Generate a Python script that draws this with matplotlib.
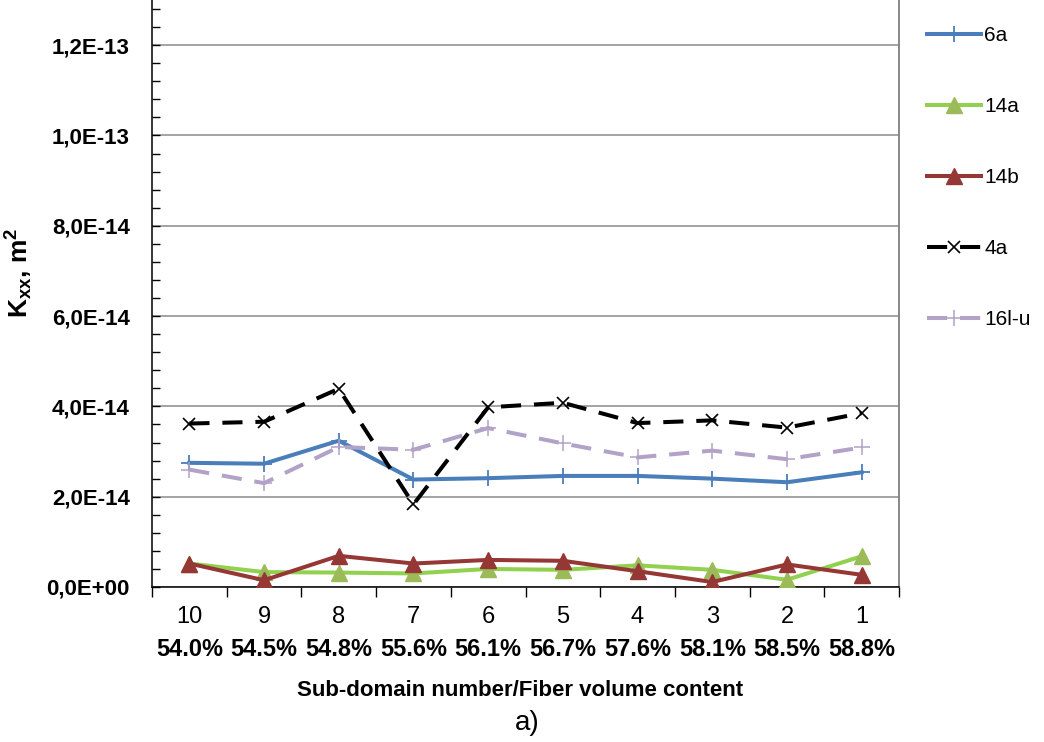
import matplotlib
matplotlib.use("Agg")
import matplotlib.pyplot as plt
from matplotlib.ticker import MultipleLocator, FuncFormatter, FixedLocator

plt.rcParams['font.family'] = ['Liberation Sans', 'DejaVu Sans']
plt.rcParams['mathtext.fontset'] = 'custom'
plt.rcParams['mathtext.rm'] = 'Liberation Sans:bold'
plt.rcParams['mathtext.bf'] = 'Liberation Sans:bold'
plt.rcParams['mathtext.it'] = 'Liberation Sans:bold'
plt.rcParams['mathtext.default'] = 'bf'

# ---------------- data ----------------
subdomains = ['10', '9', '8', '7', '6', '5', '4', '3', '2', '1']
fiber_vf = ['54.0%', '54.5%', '54.8%', '55.6%', '56.1%', '56.7%', '57.6%', '58.1%', '58.5%', '58.8%']

k_6a   = [2.75e-14, 2.73e-14, 3.24e-14, 2.38e-14, 2.41e-14, 2.46e-14, 2.46e-14, 2.40e-14, 2.32e-14, 2.54e-14]
k_14a  = [0.52e-14, 0.33e-14, 0.32e-14, 0.30e-14, 0.40e-14, 0.38e-14, 0.48e-14, 0.38e-14, 0.16e-14, 0.68e-14]
k_14b  = [0.52e-14, 0.15e-14, 0.69e-14, 0.52e-14, 0.60e-14, 0.58e-14, 0.35e-14, 0.11e-14, 0.50e-14, 0.27e-14]
k_4a   = [3.62e-14, 3.66e-14, 4.39e-14, 1.83e-14, 3.98e-14, 4.08e-14, 3.63e-14, 3.69e-14, 3.53e-14, 3.85e-14]
k_16lu = [2.60e-14, 2.30e-14, 3.10e-14, 3.04e-14, 3.52e-14, 3.18e-14, 2.87e-14, 3.02e-14, 2.83e-14, 3.09e-14]

series_labels = ['6a', '14a', '14b', '4a', '16l-u']
y_major = [0, 2e-14, 4e-14, 6e-14, 8e-14, 1.0e-13, 1.2e-13]

# ---------------- figure ----------------
W, H = 1044, 742
fig = plt.figure(figsize=(W / 100, H / 100), dpi=100)
ax = fig.add_axes([152 / W, 1 - 587 / H, (899 - 152) / W, 587 / H])

x = list(range(len(subdomains)))

l1, = ax.plot(x, k_6a, color='#4a7ebb', lw=2.9, marker='+', ms=12, mew=1.3,
              label=series_labels[0], zorder=3)
l2, = ax.plot(x, k_14a, color='#92d050', lw=2.9, marker='^', ms=11,
              mfc='#9bbb59', mec='#9bbb59', label=series_labels[1], zorder=3)
l3, = ax.plot(x, k_14b, color='#953735', lw=2.9, marker='^', ms=11,
              mfc='#953735', mec='#953735', label=series_labels[2], zorder=4)
l4, = ax.plot(x, k_4a, color='black', lw=2.9, ls=(0, (5, 3.2)), marker='x', ms=9,
              mew=1.2, label=series_labels[3], zorder=5)
l5, = ax.plot(x, k_16lu, color='#b3a2c7', lw=2.9, ls=(0, (5, 3.2)), marker='+', ms=12,
              mew=1.1, label=series_labels[4], zorder=4)

ax.set_xlim(-0.5, len(subdomains) - 0.5)
ax.set_ylim(0, 1.3e-13)

# y axis
ax.yaxis.set_major_locator(FixedLocator(y_major))
ax.yaxis.set_minor_locator(MultipleLocator(4e-15))
ax.yaxis.set_major_formatter(FuncFormatter(lambda v, p: f"{v:.1E}".replace('.', ',')))
ax.tick_params(axis='y', which='both', direction='in', length=6, width=1, color='black')
ax.tick_params(axis='y', which='major', pad=16, labelsize=16)
for t in ax.get_yticklabels():
    t.set_fontweight('bold')

# x axis
ax.xaxis.set_major_locator(FixedLocator(x))
ax.set_xticklabels(subdomains)
ax.xaxis.set_minor_locator(FixedLocator([i - 0.5 for i in range(len(subdomains) + 1)]))
ax.tick_params(axis='x', which='major', length=0, pad=14, labelsize=17)
ax.tick_params(axis='x', which='minor', direction='out', length=7, width=1, color='black')

for i, vf in enumerate(fiber_vf):
    ax.annotate(vf, xy=(i, 0), xycoords=('data', 'axes fraction'),
                xytext=(0, -62), textcoords='offset pixels',
                ha='center', va='center', fontsize=17, fontweight='bold')

ax.annotate('Sub-domain number/Fiber volume content', xy=(0.5, 0), xycoords='axes fraction',
            xytext=(-5, -103), textcoords='offset pixels',
            ha='center', va='center', fontsize=16, fontweight='bold')

fig.text(527 / W, 1 - 723 / H, 'a)', ha='center', va='center', fontsize=20)
fig.text(19 / W, 1 - 273 / H, r'K$_{xx}$, m$^{2}$', rotation=90, ha='center', va='center',
         fontsize=19, fontweight='bold')

# grid & spines
ax.yaxis.grid(True, which='major', color='#8a8a8a', lw=1.1)
ax.set_axisbelow(True)
ax.spines['top'].set_visible(False)
ax.spines['right'].set_color('#7f7f7f')
ax.spines['right'].set_linewidth(1.3)
ax.spines['left'].set_linewidth(1.1)
ax.spines['bottom'].set_linewidth(1.1)

leg = ax.legend(handles=[l1, l2, l3, l4, l5], loc='upper left',
                bbox_to_anchor=(927 / W, 1 - 26 / H), bbox_transform=fig.transFigure,
                frameon=False, fontsize=15, handlelength=2.6, handletextpad=0.15,
                labelspacing=2.5, borderpad=0, borderaxespad=0)

fig.savefig('out.png', dpi=100)
